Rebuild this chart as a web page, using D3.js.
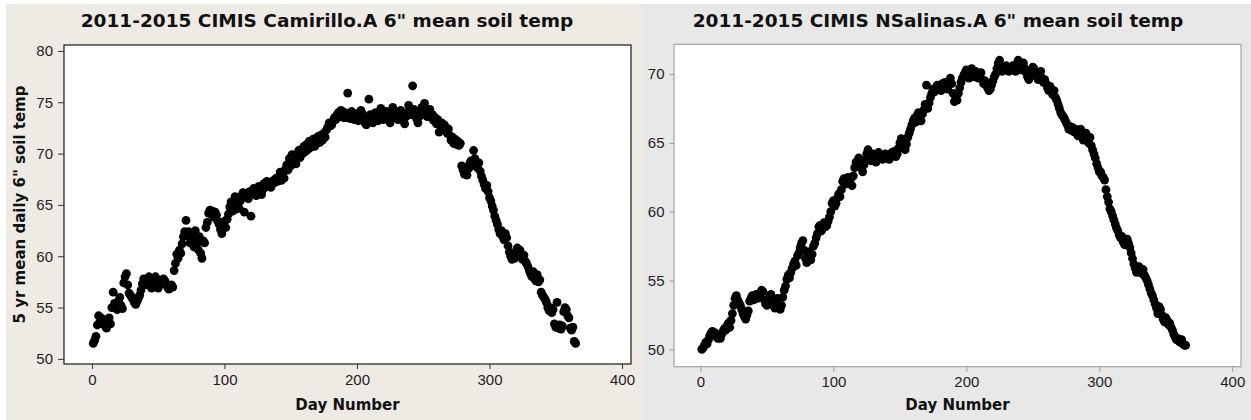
<!DOCTYPE html>
<html>
<head>
<meta charset="utf-8">
<script src="https://cdn.jsdelivr.net/npm/d3@7"></script>
<style>
body { margin: 0; background: #fff; }
svg { display: block; }
.tick text { font-family: "Liberation Sans", Arial, sans-serif; font-size: 15px; fill: #1e1e1e; }
.ttl { font-family: "DejaVu Sans", sans-serif; font-weight: bold; fill: #111; }
</style>
</head>
<body>
<script>

// 5 yr mean daily 6" soil temp, day 1..365
var camarilloTemp = [
  51.5, 51.8, 52.2, 53.3, 54.2, 53.6, 54.0, 53.4, 53.8, 53.2,
  53.0, 53.6, 54.0, 53.4, 55.0, 56.5, 55.4, 55.0, 54.8, 55.6,
  56.0, 55.2, 54.9, 57.4, 58.0, 58.3, 57.2, 56.4, 56.2, 56.0,
  55.8, 55.5, 55.3, 55.6, 55.9, 56.2, 56.7, 57.3, 57.8, 57.5,
  57.2, 57.6, 58.0, 57.4, 56.9, 57.3, 57.8, 58.0, 57.3, 56.9,
  57.2, 57.6, 57.4, 57.8, 57.6, 57.3, 57.0, 56.8, 56.9, 57.2,
  57.0, 58.6, 59.3, 60.2, 59.8, 60.6, 60.3, 61.2, 61.9, 62.4,
  63.5, 62.0, 62.4, 61.3, 62.2, 61.6, 60.9, 62.5, 61.2, 60.7,
  61.9, 60.3, 59.8, 61.5, 61.3, 62.8, 63.3, 64.2, 64.5, 64.1,
  64.4, 63.8, 64.3, 64.0, 63.4, 63.1, 62.6, 62.2, 62.9, 63.4,
  62.8, 63.6, 64.1, 64.8, 65.3, 64.4, 65.2, 65.8, 64.6, 65.0,
  64.7, 65.4, 65.9, 66.2, 64.3, 65.8, 66.0, 65.6, 66.3, 63.9,
  66.3, 66.6, 66.1, 65.9, 66.4, 66.8, 66.3, 66.0, 66.5, 67.1,
  66.9, 67.3, 66.8, 67.1, 66.7, 67.0, 67.4, 67.2, 67.6, 67.3,
  67.6, 68.2, 67.4, 68.0, 67.6, 68.5, 68.9, 68.4, 69.5, 68.8,
  69.9, 69.2, 69.7, 69.0, 69.8, 70.3, 69.6, 70.4, 70.0, 70.7,
  70.2, 70.9, 70.4, 71.2, 70.6, 70.9, 71.4, 70.7, 71.5, 71.0,
  71.7, 71.1, 71.8, 71.3, 72.0, 71.6, 72.3, 72.6, 73.0, 72.7,
  72.8, 73.2, 73.5, 73.3, 73.8, 74.0, 73.6, 74.2, 73.8, 73.5,
  74.0, 73.5, 75.9, 73.8, 73.4, 74.1, 73.7, 73.3, 73.9, 73.5,
  73.2, 73.6, 74.2, 73.9, 73.4, 73.0, 72.8, 73.5, 75.3, 73.8,
  73.3, 73.0, 73.6, 74.0, 73.5, 73.2, 73.8, 74.4, 73.7, 73.3,
  73.6, 74.1, 73.8, 73.4, 73.0, 73.5, 74.5, 74.0, 73.6, 73.9,
  73.3, 73.7, 74.2, 73.8, 73.2, 72.9, 73.6, 74.0, 74.7, 74.2,
  73.8, 76.6, 74.3, 73.7, 73.4, 73.0, 73.6, 74.1, 74.5, 74.0,
  74.9, 74.2, 73.6, 73.9, 74.3, 73.5, 73.8, 73.2, 73.5, 72.9,
  73.3, 72.1, 72.8, 73.0, 72.5, 72.8, 72.3, 72.0, 72.4, 71.8,
  71.3, 71.6, 71.0, 71.4, 70.9, 71.2, 70.8, 71.0, 68.8, 68.4,
  68.0, 68.6, 67.9, 68.5, 69.0, 69.3, 68.8, 70.3, 69.5, 69.0,
  68.6, 69.1, 68.3, 67.8, 67.4, 67.0, 66.6, 66.9, 66.3, 65.7,
  65.4, 64.9, 64.5, 63.9, 63.5, 63.1, 62.6, 62.2, 62.5, 61.9,
  61.6, 62.2, 61.8, 61.0, 60.4, 60.0, 59.7, 60.2, 59.8, 60.5,
  60.8, 60.3, 60.6, 60.0, 59.7, 60.1, 59.5, 59.3, 59.0, 58.6,
  58.3, 58.0, 58.5, 57.8, 57.6, 58.2, 57.5, 57.7, 56.5, 56.2,
  56.0, 55.8, 55.5, 55.0, 54.7, 55.0, 54.5, 54.8, 53.4, 53.1,
  55.5, 53.0, 53.3, 52.9, 53.2, 54.6, 55.0, 54.8, 54.2, 54.0,
  53.0, 52.8, 53.1, 51.7, 51.5
];

var nsalinasTemp = [
  50.0, 50.1, 50.3, 50.5, 50.4, 50.7, 51.0, 51.2, 51.3, 51.1,
  51.2, 50.9, 50.8, 51.0, 50.8, 51.1, 51.3, 51.5, 51.4, 51.7,
  51.9, 51.6, 52.1, 52.6, 53.2, 53.7, 53.9, 53.6, 53.4, 53.2,
  52.9, 52.6, 52.4, 52.2, 52.5, 52.8, 53.5, 53.7, 53.9, 53.6,
  53.8, 54.0, 53.7, 53.9, 54.1, 54.3, 54.2, 53.6, 53.3, 53.2,
  53.5, 53.8, 54.0, 53.6, 53.2, 53.0, 53.4, 53.7, 53.1, 52.9,
  53.2, 53.8, 54.3, 54.6, 55.1, 55.4, 55.2, 55.6, 55.9, 56.2,
  56.4, 56.1, 56.8, 57.0, 57.4, 57.7, 57.9, 57.2, 56.6, 56.3,
  56.8, 57.1, 56.5, 56.9, 57.5, 57.7, 58.1, 58.4, 58.9, 59.0,
  58.6, 58.8, 59.2, 58.9, 59.0, 59.3, 59.6, 60.0, 60.6, 60.8,
  60.4, 60.6, 61.0, 61.3, 61.1, 61.6, 62.2, 62.4, 62.0, 62.3,
  62.5, 62.1, 62.4, 61.9, 62.6, 63.2, 63.6, 63.4, 63.9, 63.7,
  63.2, 62.9, 63.4, 63.8, 64.2, 64.5, 64.1, 63.7, 63.9, 64.2,
  63.8, 63.6, 64.0, 64.3, 63.9, 64.1, 63.8, 64.0, 64.2, 63.9,
  64.1, 63.8, 64.0, 64.3, 64.1, 64.4, 64.0, 64.2, 64.6, 65.0,
  65.3, 65.1, 64.8, 64.5, 64.9, 65.4, 65.7, 66.0, 66.3, 66.6,
  66.8, 66.5, 67.0, 67.2, 66.8, 66.6, 67.1, 67.4, 67.8, 69.2,
  67.5, 67.9, 68.3, 68.6, 68.9, 68.7, 69.0, 69.2, 68.9, 69.1,
  68.8, 69.3, 69.0, 69.4, 69.2, 68.9, 69.5, 69.7, 69.3, 68.6,
  68.0, 68.3, 68.1, 68.6, 69.0, 69.4, 69.7, 69.9, 70.1, 70.3,
  70.0, 69.7, 70.2, 70.4, 70.1, 69.8, 70.2, 70.0, 69.7, 69.9,
  70.1, 69.6, 69.3, 69.5, 69.2, 69.0, 68.8, 68.9, 69.2, 69.5,
  69.8, 70.0, 70.4, 70.8, 71.0, 70.5, 70.2, 70.4, 70.3, 70.6,
  70.4, 70.2, 70.5, 70.3, 70.6, 70.4, 70.2, 70.7, 71.0, 70.6,
  70.3, 70.5, 70.8, 70.4, 70.1, 69.8, 69.6, 70.0, 70.3, 70.5,
  70.4, 70.1, 69.8, 69.6, 69.9, 70.2, 69.7, 69.4, 69.6, 69.3,
  69.0, 68.8, 69.1, 68.7, 68.5, 68.8, 68.3, 68.1, 67.8, 67.5,
  67.2, 67.0, 66.9, 66.7, 66.5, 66.3, 66.0, 66.2, 65.9, 66.1,
  65.8, 66.0, 65.7, 65.5, 65.9, 66.0, 65.6, 65.2, 65.4, 65.7,
  65.3, 65.0, 65.4, 64.8, 64.5, 64.2, 63.9, 63.5, 63.2, 62.9,
  62.9, 62.6, 62.5, 62.3, 61.6, 61.1, 60.7, 60.2, 60.0, 59.7,
  59.4, 59.1, 58.8, 58.6, 58.3, 58.1, 58.2, 57.8, 57.6, 57.9,
  58.0, 57.7, 57.4, 57.0, 56.6, 56.2, 55.9, 55.6, 55.8, 56.0,
  55.7, 55.5, 55.8, 55.4, 55.2, 55.0, 54.7, 54.4, 54.1, 53.9,
  53.6, 53.3, 53.0, 52.6, 53.1, 52.9, 52.5, 52.2, 52.0, 52.3,
  52.1, 51.8, 51.9, 51.6, 51.4, 51.1, 50.9, 50.7, 50.8, 50.6,
  50.5, 50.7, 50.4, 50.3, 50.3
];

var dayTicks = [0, 100, 200, 300, 400];
var camTicks = [50, 55, 60, 65, 70, 75, 80];
var salTicks = [50, 55, 60, 65, 70];

var svg = d3.select('body').append('svg')
    .attr('width', 1251)
    .attr('height', 420);

function panel(p) {
  var g = svg.append('g');

  g.append('rect')
      .attr('x', p.bx).attr('y', 4)
      .attr('width', p.bw).attr('height', 416)
      .attr('fill', p.bg);

  var x = d3.scaleLinear().domain(p.xdom).range([p.left, p.right]);
  var y = d3.scaleLinear().domain(p.ydom).range([p.bottom, p.top]);

  g.append('rect')
      .attr('x', p.left).attr('y', p.top)
      .attr('width', p.right - p.left).attr('height', p.bottom - p.top)
      .attr('fill', '#fff')
      .attr('stroke', p.frame)
      .attr('stroke-width', 1.2);

  g.selectAll('circle')
      .data(p.temps)
    .enter().append('circle')
      .attr('cx', function(d, i) { return x(i + 1); })
      .attr('cy', function(d) { return y(d); })
      .attr('r', 4.4)
      .attr('fill', '#000');

  var xa = g.append('g')
      .attr('transform', 'translate(0,' + p.bottom + ')')
      .call(d3.axisBottom(x).tickValues(dayTicks).tickSize(5).tickPadding(5));
  var ya = g.append('g')
      .attr('transform', 'translate(' + p.left + ',0)')
      .call(d3.axisLeft(y).tickValues(p.yticks).tickSize(p.ytick).tickPadding(5));
  [xa, ya].forEach(function(a) {
    a.select('.domain').remove();
    a.selectAll('.tick line').attr('stroke', p.tickc);
  });

  g.append('text')
      .attr('class', 'ttl')
      .attr('x', p.titlex).attr('y', 26.5)
      .attr('text-anchor', 'middle')
      .style('font-size', '18.5px')
      .text(p.title);

  g.append('text')
      .attr('class', 'ttl')
      .attr('x', (p.left + p.right) / 2).attr('y', 410)
      .attr('text-anchor', 'middle')
      .style('font-size', '15px')
      .text('Day Number');

  if (p.ylabel) {
    g.append('text')
        .attr('class', 'ttl')
        .attr('transform', 'translate(25,' + (p.top + p.bottom) / 2 + ') rotate(-90)')
        .attr('text-anchor', 'middle')
        .style('font-size', '15px')
        .text(p.ylabel);
  }
}

panel({
  temps: camarilloTemp,
  title: '2011-2015 CIMIS Camirillo.A 6" mean soil temp',
  ylabel: '5 yr mean daily 6" soil temp',
  yticks: camTicks,
  bx: 6, bw: 636, bg: '#eeeae4',
  left: 64, right: 631, top: 45, bottom: 364,
  xdom: [-21.1, 406.8], ydom: [49.5, 80.58],
  frame: '#1a1a1a', tickc: '#333', ytick: 6,
  titlex: 327
});

panel({
  temps: nsalinasTemp,
  title: '2011-2015 CIMIS NSalinas.A 6" mean soil temp',
  ylabel: null,
  yticks: salTicks,
  bx: 642, bw: 609, bg: '#e8e8e8',
  left: 674, right: 1241, top: 44.3, bottom: 366.7,
  xdom: [-19.9, 406.6], ydom: [48.74, 72.16],
  frame: '#a4a4a4', tickc: '#999', ytick: 4.5,
  titlex: 938
});

</script>
</body>
</html>
